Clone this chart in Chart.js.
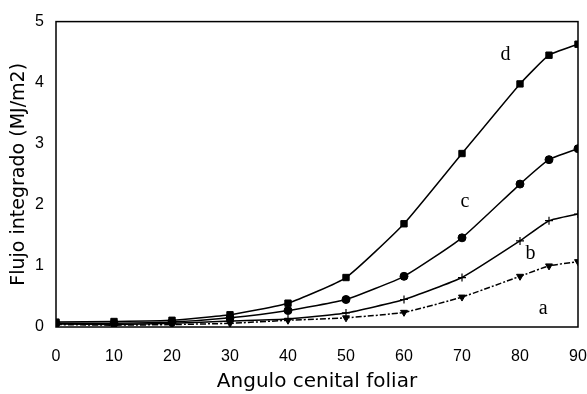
<!DOCTYPE html>
<html>
<head>
<meta charset="utf-8">
<script src="https://cdn.jsdelivr.net/npm/chart.js@4/dist/chart.umd.min.js"></script>
<style>
  html, body { margin: 0; padding: 0; background: #fff; }
  #wrap { width: 587px; height: 394px; }
</style>
</head>
<body>
<div id="wrap"><canvas id="flujoChart" width="587" height="394"></canvas></div>
<script>
// angulos (grados) y flujo integrado (MJ/m2) para cada curva
const angulos = [0, 10, 20, 30, 40, 50, 60, 70, 80, 85, 90];
const serieA = [0.04, 0.03, 0.04, 0.06, 0.11, 0.15, 0.24, 0.49, 0.83, 1.00, 1.07];
const serieB = [0.05, 0.04, 0.06, 0.10, 0.13, 0.23, 0.45, 0.81, 1.41, 1.74, 1.85];
const serieC = [0.06, 0.06, 0.08, 0.15, 0.27, 0.45, 0.83, 1.46, 2.34, 2.74, 2.92];
const serieD = [0.08, 0.09, 0.11, 0.20, 0.39, 0.81, 1.69, 2.84, 3.98, 4.45, 4.63];
const ticksX = [0, 10, 20, 30, 40, 50, 60, 70, 80, 90];
const ticksY = [0, 1, 2, 3, 4, 5];
// etiquetas de cada curva: [texto, angulo, flujo]
const etiquetas = [['d', 77.5, 4.45], ['c', 70.5, 2.05], ['b', 81.8, 1.2], ['a', 84, 0.3]];

const puntos = (vals) => vals.map((v, i) => ({ x: angulos[i], y: v }));

const serie = (label, vals, style, extra) => Object.assign({
    label,
    data: puntos(vals),
    borderColor: '#000',
    backgroundColor: '#000',
    borderWidth: 1.5,
    pointStyle: style,
    pointRadius: 4,
    pointBorderWidth: 1,
    tension: 0.15,
    fill: false
}, extra || {});

// marco y letras de las curvas
const marco = {
    id: 'marco',
    afterDatasetsDraw(chart) {
        const { ctx, chartArea: a, scales } = chart;
        ctx.save();
        ctx.strokeStyle = '#000';
        ctx.lineWidth = 1.5;
        ctx.strokeRect(a.left, a.top, a.right - a.left, a.bottom - a.top);
        ctx.fillStyle = '#000';
        ctx.font = '20px "Liberation Serif", "DejaVu Serif", serif';
        ctx.textAlign = 'center';
        ctx.textBaseline = 'middle';
        etiquetas.forEach(([t, x, y]) => {
            ctx.fillText(t, scales.x.getPixelForValue(x), scales.y.getPixelForValue(y));
        });
        ctx.restore();
    }
};

const fuente = '"Liberation Sans", Arial, sans-serif';
const fuenteTitulo = '"DejaVu Sans", Arial, sans-serif';

new Chart('flujoChart', {
    type: 'line',
    data: {
        datasets: [
            serie('d', serieD, 'rect', { pointRadius: 4.5 }),
            serie('c', serieC, 'circle'),
            serie('b', serieB, 'cross', { pointRadius: 4, pointBorderWidth: 1.2 }),
            serie('a', serieA, 'triangle', { rotation: 180, borderDash: [6, 2, 2, 2] })
        ]
    },
    options: {
        responsive: false,
        animation: false,
        layout: { padding: { left: 0, right: 9, top: 19, bottom: 0 } },
        plugins: { legend: { display: false }, tooltip: { enabled: false } },
        scales: {
            x: {
                type: 'linear',
                min: 0,
                max: 90,
                afterBuildTicks: (s) => { s.ticks = ticksX.map(v => ({ value: v })); },
                afterFit: (s) => { s.height = 67; s.paddingLeft = 0; s.paddingRight = 0; },
                grid: { display: false, drawTicks: false },
                border: { display: false },
                ticks: { color: '#000', padding: 20, maxRotation: 0, font: { family: fuente, size: 16 } },
                title: {
                    display: true,
                    text: 'Angulo cenital foliar',
                    color: '#000',
                    padding: { top: 2, bottom: 0 },
                    font: { family: fuenteTitulo, size: 20 }
                }
            },
            y: {
                min: 0,
                max: 5,
                afterBuildTicks: (s) => { s.ticks = ticksY.map(v => ({ value: v })); },
                afterFit: (s) => { s.width = 56; },
                grid: { display: false, drawTicks: false },
                border: { display: false },
                ticks: { color: '#000', padding: 12, font: { family: fuente, size: 16 } },
                title: {
                    display: true,
                    text: 'Flujo integrado (MJ/m2)',
                    color: '#000',
                    padding: { top: 8, bottom: 0 },
                    font: { family: fuenteTitulo, size: 19 }
                }
            }
        }
    },
    plugins: [marco]
});
</script>
</body>
</html>
